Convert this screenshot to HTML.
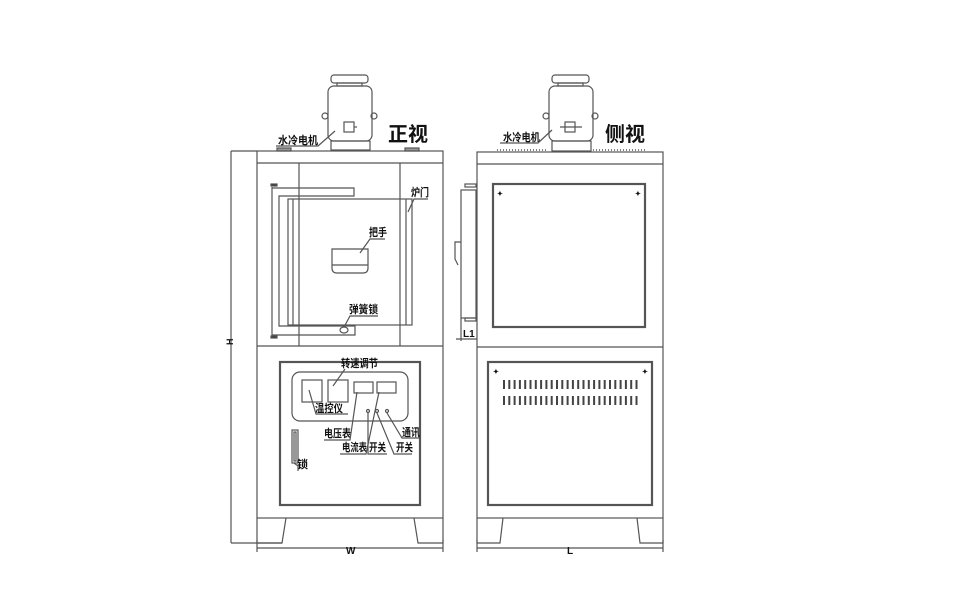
<!DOCTYPE html>
<html><head><meta charset="utf-8"><style>
body{margin:0;background:#fff;width:960px;height:600px;overflow:hidden}
svg text{font-family:"Liberation Sans","Noto Sans CJK SC",sans-serif;fill:#111;font-weight:bold}
</style></head><body>
<svg width="960" height="600" viewBox="0 0 960 600" xmlns="http://www.w3.org/2000/svg" fill="none" stroke="#555" stroke-width="1.2">
<!-- ===== FRONT VIEW ===== -->
<rect x="331" y="75" width="37" height="8" rx="3"/>
<rect x="337" y="83" width="25" height="3"/>
<rect x="328" y="86" width="44" height="55" rx="6"/>
<rect x="331" y="141" width="39" height="9"/>
<circle cx="325" cy="116" r="3"/><circle cx="374" cy="116" r="3"/>
<rect x="344" y="122" width="10" height="10"/><line x1="354" y1="127" x2="357" y2="127"/>
<rect x="277" y="148" width="14" height="3" fill="#999"/><rect x="405" y="148" width="14" height="3" fill="#999"/>
<rect x="257" y="151" width="186" height="367"/>
<line x1="257" y1="163" x2="443" y2="163"/>
<line x1="299" y1="163" x2="299" y2="346"/><line x1="400" y1="163" x2="400" y2="346"/>
<line x1="257" y1="346" x2="443" y2="346"/>
<rect x="271" y="184" width="6" height="2" fill="#333"/><rect x="271" y="336" width="6" height="2" fill="#333"/>
<path d="M272 187 V335 H355 V326 H279 V196 H354 V188 H272"/>
<rect x="288" y="199" width="124" height="126"/>
<line x1="293" y1="199" x2="293" y2="325"/><line x1="406" y1="199" x2="406" y2="325"/>
<path d="M332 249 H368 V268 Q368 273 363 273 H337 Q332 273 332 268 Z"/>
<line x1="332" y1="265" x2="368" y2="265"/>
<ellipse cx="344" cy="330" rx="4" ry="3"/>
<text x="278" y="144" font-size="11" stroke="none" textLength="40" lengthAdjust="spacingAndGlyphs">水冷电机</text>
<path d="M276 146 H318 L335 131"/>
<text x="388" y="141" font-size="20" stroke="none" font-weight="normal">正视</text>
<text x="411" y="196" font-size="11" stroke="none" textLength="18" lengthAdjust="spacingAndGlyphs">炉门</text>
<path d="M408 212 L414 199 H428"/>
<text x="369" y="236" font-size="11" stroke="none" textLength="18" lengthAdjust="spacingAndGlyphs">把手</text>
<path d="M360 253 L370 239 H385"/>
<text x="349" y="313" font-size="11" stroke="none" textLength="29" lengthAdjust="spacingAndGlyphs">弹簧锁</text>
<path d="M344 327 L350 316 H378"/>
<rect x="280" y="362" width="140" height="143" stroke-width="2.2"/>
<rect x="292" y="372" width="116" height="49" rx="8"/>
<rect x="302" y="380" width="20" height="22"/><rect x="328" y="380" width="20" height="22"/>
<rect x="354" y="382" width="19" height="11"/><rect x="377" y="382" width="19" height="11"/>
<circle cx="368" cy="411" r="1.5"/><circle cx="377" cy="411" r="1.5"/><circle cx="387" cy="411" r="1.5"/>
<text x="341" y="367" font-size="11" stroke="none" textLength="37" lengthAdjust="spacingAndGlyphs">转速调节</text>
<line x1="333" y1="386" x2="345" y2="369"/>
<text x="315" y="412" font-size="11" stroke="none" textLength="28" lengthAdjust="spacingAndGlyphs">温控仪</text>
<path d="M309 390 L316 414 H348"/>
<text x="324" y="437" font-size="11" stroke="none" textLength="27" lengthAdjust="spacingAndGlyphs">电压表</text>
<path d="M357 392 L350 440 H324"/>
<text x="342" y="451" font-size="11" stroke="none" textLength="25" lengthAdjust="spacingAndGlyphs">电流表</text>
<path d="M379 392 L366 454 H340"/>
<text x="369" y="451" font-size="11" stroke="none" textLength="17" lengthAdjust="spacingAndGlyphs">开关</text>
<path d="M368 413 V454 H387"/>
<text x="396" y="451" font-size="11" stroke="none" textLength="17" lengthAdjust="spacingAndGlyphs">开关</text>
<path d="M377 413 L394 454 H412"/>
<text x="402" y="436" font-size="11" stroke="none" textLength="18" lengthAdjust="spacingAndGlyphs">通讯</text>
<path d="M387 413 L402 438 H420"/>
<rect x="292" y="430" width="6" height="33"/><rect x="294" y="432" width="2" height="29"/>
<text x="297" y="468" font-size="11" stroke="none">锁</text>
<path d="M294 463 L298 466 V471"/>
<path d="M257 518 V543 H282 L286 518"/><path d="M443 518 V543 H418 L414 518"/>
<line x1="231" y1="151" x2="231" y2="543"/><line x1="231" y1="151" x2="257" y2="151"/><line x1="231" y1="543" x2="282" y2="543"/>
<text x="228" y="350" font-size="9" stroke="none" transform="rotate(-90 228 345)">H</text>
<line x1="257" y1="548" x2="443" y2="548"/><line x1="257" y1="540" x2="257" y2="552"/><line x1="443" y1="540" x2="443" y2="552"/>
<text x="346" y="554" font-size="10" stroke="none">W</text>

<!-- ===== SIDE VIEW ===== -->
<rect x="552" y="75" width="37" height="8" rx="3"/>
<rect x="558" y="83" width="25" height="3"/>
<rect x="549" y="86" width="44" height="55" rx="6"/>
<rect x="552" y="141" width="39" height="10"/>
<circle cx="546" cy="116" r="3"/><circle cx="595" cy="116" r="3"/>
<rect x="565" y="122" width="10" height="10"/><line x1="560" y1="127" x2="582" y2="127"/>
<line x1="497" y1="150" x2="548" y2="150" stroke-dasharray="1 2" stroke="#333"/>
<line x1="593" y1="150" x2="647" y2="150" stroke-dasharray="1 2" stroke="#333"/>
<text x="503" y="141" font-size="11" stroke="none" textLength="37" lengthAdjust="spacingAndGlyphs">水冷电机</text>
<path d="M500 143 H538 L552 130"/>
<text x="605" y="141" font-size="20" stroke="none" font-weight="normal">侧视</text>
<rect x="477" y="152" width="186" height="366"/>
<line x1="477" y1="164" x2="663" y2="164"/>
<rect x="493" y="184" width="152" height="143" stroke-width="2.2"/>
<text x="497" y="196" font-size="7" stroke="none">✦</text><text x="635" y="196" font-size="7" stroke="none">✦</text>
<line x1="477" y1="347" x2="663" y2="347"/>
<rect x="488" y="362" width="164" height="143" stroke-width="2.2"/>
<text x="493" y="374" font-size="7" stroke="none">✦</text><text x="642" y="374" font-size="7" stroke="none">✦</text>
<g stroke="#444" stroke-width="2">
<path d="M504 380V389M509.3 380V389M514.6 380V389M519.9 380V389M525.2 380V389M530.5 380V389M535.8 380V389M541.1 380V389M546.4 380V389M551.7 380V389M557 380V389M562.3 380V389M567.6 380V389M572.9 380V389M578.2 380V389M583.5 380V389M588.8 380V389M594.1 380V389M599.4 380V389M604.7 380V389M610 380V389M615.3 380V389M620.6 380V389M625.9 380V389M631.2 380V389M636.5 380V389"/>
<path d="M504 396V405M509.3 396V405M514.6 396V405M519.9 396V405M525.2 396V405M530.5 396V405M535.8 396V405M541.1 396V405M546.4 396V405M551.7 396V405M557 396V405M562.3 396V405M567.6 396V405M572.9 396V405M578.2 396V405M583.5 396V405M588.8 396V405M594.1 396V405M599.4 396V405M604.7 396V405M610 396V405M615.3 396V405M620.6 396V405M625.9 396V405M631.2 396V405M636.5 396V405"/>
</g>
<rect x="465" y="184" width="11" height="3"/>
<rect x="461" y="190" width="15" height="128"/>
<rect x="465" y="318" width="11" height="3"/>
<path d="M461 242 H455 V259 L458 265"/>
<line x1="456" y1="339" x2="477" y2="339"/><line x1="461" y1="318" x2="461" y2="341"/>
<text x="463" y="337" font-size="10" stroke="none" font-weight="normal">L1</text>
<path d="M477 518 V543 H500 L503 518"/><path d="M663 518 V543 H640 L637 518"/>
<line x1="477" y1="548" x2="663" y2="548"/><line x1="477" y1="540" x2="477" y2="552"/><line x1="663" y1="540" x2="663" y2="552"/>
<text x="567" y="554" font-size="10" stroke="none" font-weight="normal">L</text>
</svg>
</body></html>
